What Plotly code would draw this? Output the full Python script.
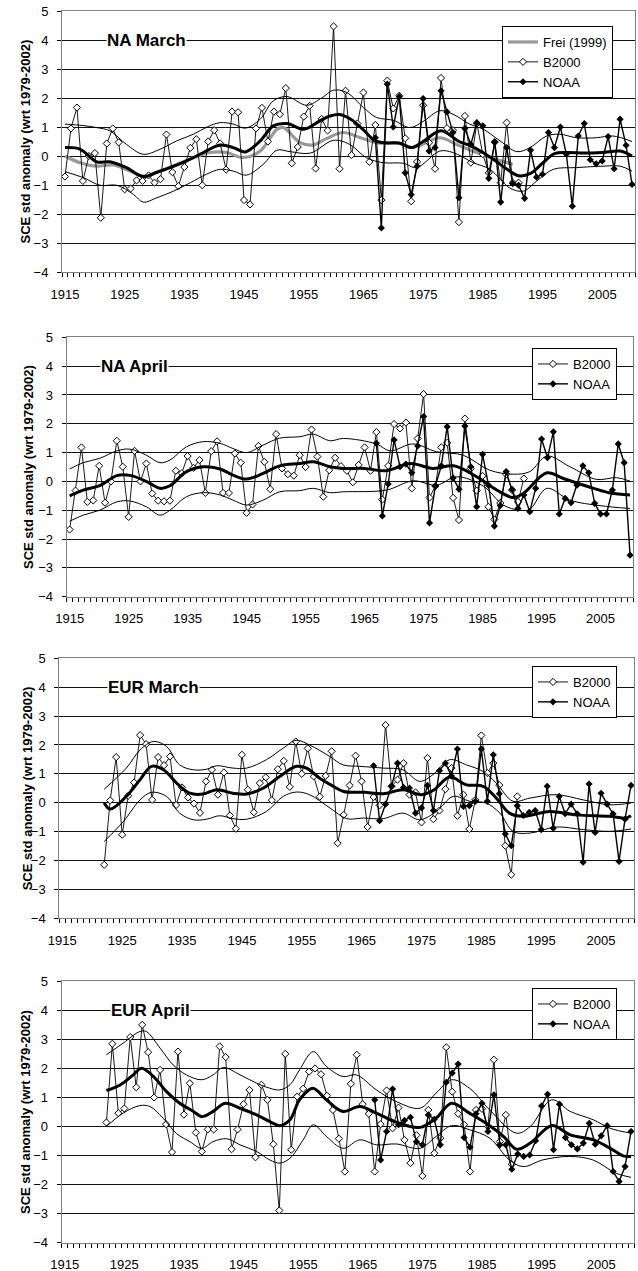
import plotly.graph_objects as go

# ---------------- data ----------------
# NA March
na_mar_b_years = list(range(1915, 1992))
na_mar_b2000 = [-0.71, 0.95, 1.67, -0.86, 0.0, 0.1, -2.13, 0.43, 0.95, 0.47,
                -1.15, -1.12, -0.84, -0.86, -0.67, -0.92, -0.8, 0.74, -0.56, -1.04,
                -0.38, 0.28, 0.58, -1.01, 0.5, 0.89, 0.43, -0.47, 1.53, 1.51,
                -1.52, -1.67, 0.95, 1.66, 0.5, 1.53, 1.44, 2.34, -0.25, 0.31,
                1.36, 1.73, -0.43, 1.28, 0.88, 4.47, -0.44, 2.25, 0.03, 1.12,
                2.19, -0.2, 1.07, -1.52, 2.6, 1.64, 2.08, 0.61, -1.56, -0.2,
                1.75, 0.46, -0.44, 2.69, 0.96, 0.89, -2.28, 1.38, -0.23, 1.12,
                0.06, -0.58, 0.48, -0.92, 1.15, -0.92, -0.92]
na_mar_n_years = list(range(1967, 2011))
na_mar_noaa = [0.63, -2.48, 2.48, 1.0, 2.05, -0.58, -1.33, -0.35, 1.98, 0.17,
               0.29, 2.25, 1.52, 0.81, -1.44, 0.95, 0.4, 1.15, 1.04, -0.77,
               0.48, -1.59, 0.29, -0.95, -1.01, -1.46, 0.2, -0.73, -0.63, 0.81,
               0.29, 1.0, 0.06, -1.73, 0.69, 1.12, -0.13, -0.27, -0.17, 0.67,
               -0.44, 1.27, 0.37, -0.98]
na_mar_mean_years = [1915, 1917.5, 1920.3, 1922.5, 1925.3, 1928.1, 1930.4, 1932.6, 1935.4, 1938.2,
                     1941, 1943.2, 1945.2, 1947.7, 1949.9, 1952.2, 1955, 1957.7, 1959.4, 1961,
                     1963, 1965, 1967, 1969, 1971, 1973, 1975, 1978, 1981, 1983,
                     1985, 1987, 1989, 1991, 1993, 1995, 1997, 1999, 2002, 2005, 2008, 2010]
na_mar_mean = [0.29, 0.24, -0.2, -0.2, -0.4, -0.71, -0.56, -0.4, -0.17, 0.12,
               0.38, 0.29, 0.14, 0.52, 1.04, 1.12, 0.92, 1.21, 1.38, 1.43,
               1.25, 0.9, 0.52, 0.45, 0.45, 0.29, 0.5, 0.87, 0.5, 0.35,
               0.12, -0.15, -0.45, -0.68, -0.6, -0.25, 0.08, 0.12, 0.1, 0.12, 0.17, 0.0]
na_mar_up_years = [1915, 1918, 1920.3, 1922.5, 1925.3, 1928.1, 1930.9, 1933.7, 1936.5, 1938.8,
                   1941, 1943.2, 1945.2, 1947.7, 1949.9, 1952.2, 1955.5, 1958, 1960, 1962.2,
                   1965, 1967.2, 1970, 1972.8, 1975, 1977.8, 1980, 1982.8, 1985.1, 1987.9,
                   1990.7, 1992.9, 1995.7, 1997.9, 2000.7, 2004, 2006.8, 2010]
na_mar_up = [1.1, 1.05, 0.98, 0.87, 0.4, 0.06, 0.23, 0.52, 0.75, 1.0,
             1.15, 1.1, 0.96, 1.27, 1.9, 2.05, 1.75, 2.0, 2.27, 2.19,
             1.67, 1.33, 1.23, 0.98, 1.19, 1.56, 1.44, 1.1, 0.92, 0.52,
             0.15, 0.29, 0.69, 0.75, 0.63, 0.63, 0.69, 0.5]
na_mar_lo_years = [1915, 1918.1, 1920.9, 1923.7, 1926.5, 1928.1, 1930.4, 1933.2, 1936, 1938.7,
                   1941, 1943.2, 1945.4, 1948.2, 1950.5, 1952.7, 1956.1, 1960, 1962.7, 1965.5,
                   1968.3, 1971.7, 1973.9, 1977.8, 1980, 1983.4, 1986.2, 1989.5, 1991.8, 1994,
                   1996.8, 2000.7, 2005.2, 2008, 2010]
na_mar_lo = [-0.54, -0.75, -1.01, -1.01, -1.33, -1.59, -1.44, -1.21, -0.92, -0.63,
             -0.46, -0.52, -0.66, -0.29, 0.2, 0.15, 0.1, 0.54, 0.4, -0.06,
             -0.23, -0.25, -0.4, 0.17, 0.12, -0.23, -0.46, -1.1, -1.21, -0.87,
             -0.46, -0.4, -0.35, -0.35, -0.52]
na_mar_frei_years = [1915, 1917.5, 1920.3, 1923.1, 1925.9, 1928.1, 1930.9, 1933.7, 1936.5, 1939.3,
                     1942.1, 1944.9, 1947.7, 1950.5, 1951.6, 1954.4, 1956.6, 1958.8, 1961.6, 1964.5,
                     1967.2, 1971.1, 1973.3, 1977.8, 1980.6, 1984, 1987.3, 1990]
na_mar_frei = [0.0, -0.23, -0.35, -0.31, -0.52, -0.69, -0.52, -0.29, -0.06, 0.12,
               0.12, -0.06, 0.17, 0.92, 0.98, 0.46, 0.38, 0.6, 0.81, 0.63,
               0.46, 0.43, 0.29, 0.63, 0.4, 0.12, -0.12, -0.29]

# NA April
na_apr_b_years = list(range(1915, 1993))
na_apr_b2000 = [-1.67, -0.32, 1.18, -0.71, -0.66, 0.54, -0.74, 0.0, 1.41, 0.51,
                -1.23, 1.06, 0.0, 0.62, -0.42, -0.67, -0.69, -0.67, 0.37, 0.28,
                0.88, 0.47, 0.74, -0.4, 1.05, 1.39, -0.4, -0.4, 0.97, 0.65,
                -1.09, -0.8, 1.23, 0.68, -0.27, 1.64, 0.45, 0.25, 0.2, 0.91,
                0.5, 1.8, 0.86, -0.53, 0.39, 0.82, 0.53, 0.37, -0.03, 0.57,
                1.18, 0.37, 1.71, -0.63, 0.54, 1.99, 1.84, 2.04, -0.24, 1.49,
                3.03, -0.56, -0.16, 1.18, 1.34, -0.57, -1.34, 2.18, 0.45, -0.32,
                0.19, -0.88, -1.32, -0.75, 0.25, -0.3, -0.71, 0.1]
na_apr_n_years = list(range(1967, 2011))
na_apr_noaa = [1.32, -1.2, -0.09, 1.44, 0.51, 0.6, 0.3, 1.23, 2.25, -1.44,
               -0.16, 0.54, 1.9, 0.12, -0.27, 1.92, 0.51, -0.88, 0.94, -0.13,
               -1.55, -0.84, 0.34, -0.28, -0.94, -0.47, -1.05, -0.24, 1.47, 0.82,
               1.72, -1.13, -0.59, -0.74, -0.13, 0.54, 0.3, -0.76, -1.13, -1.13,
               -0.3, 1.3, 0.65, -2.56]
na_apr_mean_years = [1915, 1917.3, 1920.1, 1923, 1925.2, 1928, 1930.3, 1932, 1934.8, 1937.7,
                     1940.5, 1942.7, 1945, 1947.8, 1950.6, 1954, 1956.3, 1959.1, 1961.4, 1965,
                     1968.7, 1972.7, 1976.6, 1980.1, 1984, 1987.4, 1990.2, 1991.9, 1995.9, 1998.7,
                     2003.8, 2006.6, 2010]
na_apr_mean = [-0.5, -0.3, -0.15, 0.2, 0.21, 0.0, -0.24, -0.15, 0.34, 0.51,
               0.43, 0.22, 0.08, 0.28, 0.54, 0.62, 0.68, 0.51, 0.45, 0.45,
               0.37, 0.62, 0.45, 0.54, 0.16, -0.3, -0.56, -0.42, 0.3, 0.1,
               -0.24, -0.4, -0.47]
na_apr_up_years = [1915, 1917.3, 1920.1, 1923, 1925.2, 1928, 1930.3, 1932, 1934.8, 1937.7,
                   1940.5, 1942.7, 1945, 1947.8, 1950.6, 1954, 1956.3, 1959.1, 1961.4, 1967,
                   1969.3, 1973.2, 1977.2, 1981.7, 1986.2, 1990.2, 1993, 1995.9, 1999.8, 2004.3,
                   2007.7, 2010]
na_apr_up = [0.43, 0.65, 0.8, 1.06, 1.12, 0.91, 0.65, 0.74, 1.2, 1.38,
             1.32, 1.14, 1.0, 1.26, 1.5, 1.55, 1.64, 1.41, 1.49, 1.3,
             1.06, 1.3, 1.03, 0.91, 0.39, 0.25, 0.34, 0.88, 0.51, 0.07,
             0.13, 0.01]
na_apr_lo_years = [1915, 1917.3, 1920.1, 1923, 1925.2, 1928, 1930.3, 1932, 1934.8, 1937.7,
                   1940.5, 1942.7, 1945, 1947.8, 1950.6, 1954, 1956.3, 1959.1, 1961.4, 1968.7,
                   1973.2, 1977.2, 1980.6, 1985.1, 1988.5, 1991.3, 1993, 1995.9, 1999.8, 2004.9,
                   2010]
na_apr_lo = [-1.38, -1.17, -1.0, -0.71, -0.68, -0.88, -1.17, -1.0, -0.53, -0.39,
             -0.47, -0.65, -0.82, -0.65, -0.36, -0.32, -0.24, -0.39, -0.36, -0.3,
             0.02, -0.13, 0.16, -0.16, -0.82, -1.0, -0.97, -0.24, -0.65, -0.84,
             -0.94]

# EUR March
eur_mar_b_years = list(range(1922, 1992))
eur_mar_b2000 = [-2.15, 0.08, 1.58, -1.11, 0.24, 0.7, 2.34, 2.03, 0.1, 1.58,
                 1.3, 1.6, -0.08, 0.53, 0.18, -0.03, -0.35, 0.74, 1.14, 0.28,
                 1.05, -0.44, -0.9, 1.66, 0.45, -0.33, 0.68, 0.88, 0.09, 1.16,
                 1.45, 0.55, 2.12, 1.0, 1.88, 0.91, 0.21, 0.93, 1.78, -1.4,
                 -0.42, 0.6, 1.63, 0.74, -0.84, 0.2, -0.09, 2.69, 0.57, 0.8,
                 1.37, 0.28, 0.36, -0.68, 1.55, -0.57, -0.27, 0.47, 1.2, -0.45,
                 0.28, -0.91, 0.1, 2.33, 1.03, 1.37, 0.61, -1.49, -2.49, 0.22]
eur_mar_n_years = list(range(1967, 2011))
eur_mar_noaa = [1.28, -0.62, -0.05, 0.57, 1.37, 0.53, 0.51, -0.36, -0.18, 0.6,
                -0.27, 1.11, 1.37, 0.93, 1.86, -0.13, -0.1, 0.05, 1.86, 0.05,
                1.66, 0.31, -1.08, -1.49, -0.1, -0.44, -0.33, -0.27, -0.93, 0.57,
                -0.88, 0.22, -0.38, -0.05, -0.38, -2.06, 0.65, -1.03, 0.33, -0.05,
                -0.38, -2.03, -0.57, 0.6]
eur_mar_mean_years = [1922, 1923, 1925.7, 1928, 1929.9, 1931.9, 1934.1, 1936.3, 1938.5, 1940.8,
                      1943.5, 1945.8, 1948.6, 1951.3, 1954.1, 1955.8, 1958, 1960, 1962, 1965.4,
                      1968.6, 1972, 1975, 1977, 1979.7, 1982.5, 1985.3, 1987.5, 1989.7, 1992,
                      1996.4, 2000.9, 2006.4, 2009, 2010]
eur_mar_mean = [0.0, -0.22, 0.22, 0.8, 1.26, 1.14, 0.68, 0.33, 0.3, 0.45,
                0.33, 0.3, 0.51, 0.91, 1.26, 1.2, 0.85, 0.6, 0.39, 0.36,
                0.31, 0.45, 0.28, 0.43, 0.89, 0.62, 0.57, 0.16, -0.36, -0.47,
                -0.3, -0.42, -0.47, -0.53, -0.45]
eur_mar_up_years = [1922, 1925.7, 1928, 1930.2, 1932.4, 1934.6, 1936.9, 1939.1, 1940.8, 1943.5,
                    1945.8, 1949.1, 1951.9, 1954.1, 1956.3, 1959.7, 1961.9, 1964.7, 1968.6, 1971.9,
                    1974.7, 1976.9, 1979.7, 1982.5, 1985.3, 1987.5, 1990.3, 1993.1, 1997.5, 2002,
                    2006.4, 2010]
eur_mar_up = [0.47, 1.2, 1.83, 2.12, 1.95, 1.31, 1.14, 1.16, 1.28, 1.2,
              1.2, 1.49, 1.89, 2.16, 2.0, 1.6, 1.31, 1.26, 1.2, 1.14,
              0.74, 0.97, 1.49, 1.31, 1.08, 0.68, 0.05, 0.16, 0.28, 0.1,
              -0.07, -0.01]
eur_mar_lo_years = [1922, 1925.2, 1928, 1929.9, 1932.4, 1934.6, 1936.9, 1939.1, 1941.3, 1943.5,
                    1945.8, 1949.1, 1951.9, 1954.1, 1956.3, 1959.7, 1962.5, 1965.3, 1968.6, 1971.9,
                    1974.7, 1977.5, 1980.3, 1983.1, 1985.8, 1988.1, 1990.3, 1993.1, 1997.5, 2002,
                    2006.4, 2010]
eur_mar_lo = [-1.34, -0.65, 0.1, 0.36, 0.22, -0.36, -0.59, -0.57, -0.45, -0.55,
              -0.57, -0.3, 0.22, 0.37, 0.28, -0.18, -0.55, -0.53, -0.55, -0.36,
              -0.59, -0.3, 0.22, 0.05, -0.01, -0.36, -0.99, -1.05, -0.84, -0.93,
              -0.99, -0.91]

# EUR April
eur_apr_b_years = list(range(1922, 1991))
eur_apr_b2000 = [0.14, 2.85, 0.46, 0.62, 3.08, 1.35, 3.5, 2.56, 1.0, 1.95,
                 0.08, -0.88, 2.58, 0.41, 1.49, -0.21, -0.86, -0.1, -0.1, 2.76,
                 2.39, -0.78, -0.1, 0.77, 1.26, -1.06, 1.44, 0.92, -0.61, -2.89,
                 2.5, -0.8, 1.03, 1.3, 1.89, 2.0, 1.8, 1.06, 0.57, -0.42,
                 -1.55, 1.47, 2.47, 0.77, 0.44, -1.55, 0.08, 1.24, -0.06, 0.65,
                 -0.46, -1.26, -0.3, -1.7, 0.57, -0.92, -0.4, 2.73, 1.2, 0.44,
                 0.06, -1.55, 0.57, 0.61, 0.0, 2.3, -0.52, 0.4, -1.3]
eur_apr_n_years = list(range(1967, 2011))
eur_apr_noaa = [0.92, -1.15, -0.17, 1.29, 0.06, 0.21, 0.32, -0.52, -0.63, 0.4,
                0.25, -0.63, 1.52, 1.84, 2.15, -0.38, -0.71, 0.44, 0.8, -0.17,
                1.09, -0.63, -0.63, -1.47, -0.95, -1.03, -0.98, -0.49, 0.71, 1.11,
                -0.8, 0.77, -0.38, -0.63, -0.77, -0.57, 0.11, -0.61, -0.32, 0.03,
                -1.55, -1.89, -1.38, -0.17]
eur_apr_mean_years = [1922, 1924.3, 1926.5, 1927.9, 1929.9, 1932.1, 1934.3, 1936.6, 1938, 1939.9,
                      1941.9, 1944.4, 1947.2, 1949.4, 1951.1, 1952.8, 1954.4, 1956.6, 1958.9, 1961.7,
                      1964.5, 1967.3, 1970.6, 1974.6, 1977.3, 1979.9, 1982.9, 1985.7, 1988.6, 1990.8,
                      1993.1, 1996.7, 1999.8, 2003.7, 2006.5, 2008.7, 2010]
eur_apr_mean = [1.24, 1.43, 1.78, 2.01, 1.72, 1.2, 0.8, 0.52, 0.34, 0.52,
                0.8, 0.63, 0.4, 0.17, 0.03, 0.23, 0.92, 1.32, 0.92, 0.52,
                0.69, 0.46, 0.15, -0.03, 0.29, 0.8, 0.46, 0.11, -0.34, -0.78,
                -0.57, 0.03, -0.29, -0.46, -0.75, -1.01, -1.03]
eur_apr_up_years = [1922, 1924.8, 1927.6, 1928.7, 1931, 1933.2, 1935.4, 1938, 1939.9, 1941.6,
                    1944.4, 1947.2, 1949.4, 1951.1, 1952.8, 1954.4, 1956.7, 1958.9, 1961.7, 1963.9,
                    1967.3, 1970.6, 1974.6, 1977.3, 1979.9, 1982.9, 1986.3, 1990.8, 1993.1, 1996.7,
                    1999.8, 2003.7, 2006.5, 2010]
eur_apr_up = [2.47, 2.87, 3.27, 3.27, 2.7, 2.12, 1.78, 1.61, 1.78, 2.03,
              1.78, 1.49, 1.32, 1.26, 1.44, 1.95, 2.58, 2.07, 1.72, 1.78,
              1.26, 0.86, 0.63, 1.15, 1.61, 1.32, 0.57, -0.23, 0.0, 0.92,
              0.52, 0.23, -0.06, -0.23]
eur_apr_lo_years = [1922, 1924.8, 1927.6, 1929.3, 1931.5, 1933.8, 1936, 1938, 1939.9, 1942.2,
                    1944.4, 1947.2, 1949.4, 1951.1, 1952.8, 1955, 1956.7, 1958.9, 1961.7, 1964.5,
                    1967.3, 1970.6, 1974.6, 1977.3, 1979.9, 1982.9, 1986.3, 1989.6, 1991.9, 1995.2,
                    1999.7, 2003.6, 2007.5, 2010]
eur_apr_lo = [0.0, 0.46, 0.72, 0.69, 0.29, -0.25, -0.52, -0.75, -0.52, -0.42,
              -0.63, -0.86, -1.15, -1.26, -1.09, -0.46, 0.06, -0.34, -0.75, -0.46,
              -0.63, -0.6, -0.75, -0.34, 0.03, -0.11, -0.4, -1.15, -1.38, -1.15,
              -1.03, -1.15, -1.61, -1.75]

panel_titles = ["NA March", "NA April", "EUR March", "EUR April"]
x_tick_labels = [1915, 1925, 1935, 1945, 1955, 1965, 1975, 1985, 1995, 2005]
y_tick_values = [-4, -3, -2, -1, 0, 1, 2, 3, 4, 5]
y_title = "SCE std anomaly (wrt 1979-2002)"

# ---------------- layout geometry (pixels) ----------------
W, H = 638, 1271
# (left, right, top, bottom) of each plot area
boxes = [(62, 635, 11, 272), (66.7, 633, 337.3, 596.7),
         (59.3, 634, 658.3, 918.3), (61.7, 634, 981.3, 1242.7)]
title_x = [106, 100, 107, 110]
ytitle_x = [25, 28, 27, 25]
legend_pos = [(613, 26), (617, 348), (617, 666), (617, 988)]

panels = [
    dict(b=(na_mar_b_years, na_mar_b2000), n=(na_mar_n_years, na_mar_noaa),
         m=(na_mar_mean_years, na_mar_mean), u=(na_mar_up_years, na_mar_up),
         l=(na_mar_lo_years, na_mar_lo), f=(na_mar_frei_years, na_mar_frei)),
    dict(b=(na_apr_b_years, na_apr_b2000), n=(na_apr_n_years, na_apr_noaa),
         m=(na_apr_mean_years, na_apr_mean), u=(na_apr_up_years, na_apr_up),
         l=(na_apr_lo_years, na_apr_lo), f=None),
    dict(b=(eur_mar_b_years, eur_mar_b2000), n=(eur_mar_n_years, eur_mar_noaa),
         m=(eur_mar_mean_years, eur_mar_mean), u=(eur_mar_up_years, eur_mar_up),
         l=(eur_mar_lo_years, eur_mar_lo), f=None),
    dict(b=(eur_apr_b_years, eur_apr_b2000), n=(eur_apr_n_years, eur_apr_noaa),
         m=(eur_apr_mean_years, eur_apr_mean), u=(eur_apr_up_years, eur_apr_up),
         l=(eur_apr_lo_years, eur_apr_lo), f=None),
]

FONT = "Liberation Sans, Arial, sans-serif"
fig = go.Figure()
layout = dict(template="none", width=W, height=H, autosize=False,
              margin=dict(l=0, r=0, t=0, b=0, pad=0),
              paper_bgcolor="white", plot_bgcolor="white", showlegend=True,
              font=dict(family=FONT, size=13, color="black"))
annotations = []
minor_ticks = [1914.5 + k for k in range(97)]

for i, p in enumerate(panels):
    sfx = "" if i == 0 else str(i + 1)
    xa, ya = "x" + sfx, "y" + sfx
    leg = "legend" + sfx
    L, R, T, B = boxes[i]
    common = dict(xaxis=xa, yaxis=ya, legend=leg)
    if p["f"] is not None:
        fig.add_trace(go.Scatter(x=p["f"][0], y=p["f"][1], mode="lines", name="Frei (1999)",
                                 line=dict(color="#999999", width=3.2, shape="spline", smoothing=1),
                                 legendrank=1, **common))
    fig.add_trace(go.Scatter(x=p["b"][0], y=p["b"][1], mode="lines+markers", name="B2000",
                             line=dict(color="black", width=0.9),
                             marker=dict(symbol="diamond", size=5.5, color="white",
                                         line=dict(color="black", width=1)),
                             legendrank=2, **common))
    fig.add_trace(go.Scatter(x=p["n"][0], y=p["n"][1], mode="lines+markers", name="NOAA",
                             line=dict(color="black", width=1.4),
                             marker=dict(symbol="diamond", size=5.5, color="black"),
                             legendrank=3, **common))
    for key in ("u", "l"):
        fig.add_trace(go.Scatter(x=p[key][0], y=p[key][1], mode="lines", showlegend=False,
                                 line=dict(color="black", width=1, shape="spline", smoothing=1),
                                 hoverinfo="skip", **common))
    fig.add_trace(go.Scatter(x=p["m"][0], y=p["m"][1], mode="lines", showlegend=False,
                             line=dict(color="black", width=3, shape="spline", smoothing=1),
                             **common))

    layout["xaxis" + sfx] = dict(
        domain=[L / W, R / W], anchor=ya, range=[1914.5, 2010.5], automargin=False,
        tickmode="array", tickvals=x_tick_labels, ticks="", showgrid=False, zeroline=False,
        showline=True, linecolor="#808080", linewidth=1, mirror=True,
        tickfont=dict(size=13, family=FONT), ticklabelstandoff=10,
        minor=dict(tickmode="array", tickvals=minor_ticks, ticks="outside", ticklen=4,
                   tickcolor="black", tickwidth=1, showgrid=False),
    )
    layout["yaxis" + sfx] = dict(
        domain=[1 - B / H, 1 - T / H], anchor=xa, range=[-4, 5], automargin=False,
        tickmode="array", tickvals=y_tick_values, ticks="outside", ticklen=4,
        tickcolor="black", showgrid=True, gridcolor="#111111", gridwidth=1, zeroline=False,
        showline=True, linecolor="#808080", linewidth=1, mirror=True,
        tickfont=dict(size=13, family=FONT), ticklabelstandoff=6,
    )
    lx, ly = legend_pos[i]
    layout[leg] = dict(x=lx / W, y=1 - ly / H, xanchor="right", yanchor="top",
                       xref="paper", yref="paper",
                       bgcolor="white", bordercolor="black", borderwidth=1,
                       font=dict(size=13, family=FONT), itemwidth=30, tracegroupgap=0,
                       traceorder="normal")
    annotations.append(dict(x=title_x[i] / W, y=4, xref="paper", yref=ya,
                            xanchor="left", yanchor="middle", text="<b>%s</b>" % panel_titles[i],
                            showarrow=False, bgcolor="white", borderpad=0,
                            font=dict(size=17, family=FONT, color="black")))
    annotations.append(dict(x=ytitle_x[i] / W, y=1 - (T + B) / 2 / H, xref="paper", yref="paper",
                            xanchor="center", yanchor="middle", text="<b>%s</b>" % y_title,
                            textangle=-90, showarrow=False,
                            font=dict(size=13, family=FONT, color="black")))

layout["annotations"] = annotations
fig.update_layout(**layout)
fig.write_html("out.html", config={"displayModeBar": False},
               post_script="document.body.style.margin='0';document.body.style.overflow='hidden';")
